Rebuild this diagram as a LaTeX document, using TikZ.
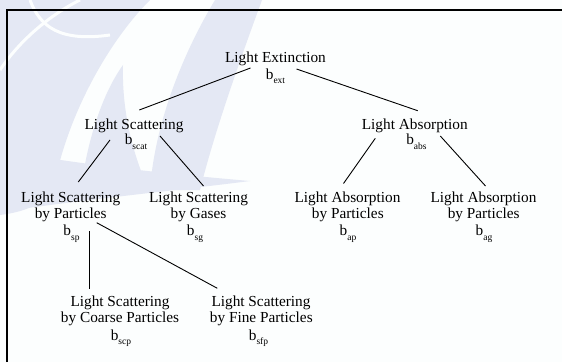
\documentclass[tikz,border=0pt]{standalone}
\usepackage{fontspec}
\setmainfont{Liberation Serif}
\definecolor{bgcol}{RGB}{252,254,254}
\definecolor{wmcol}{RGB}{228,232,244}
\newcommand{\bsubs}[1]{b\raisebox{-4.5pt}{\fontsize{9.5}{10}\selectfont #1}}
\begin{document}
\begin{tikzpicture}[x=1pt,y=1pt,
  lbl/.style={anchor=base, inner sep=0pt, font=\fontsize{15.3}{18}\selectfont},
  conn/.style={line width=0.9pt, black},
  wm/.style={fill=wmcol, draw=none},
  wmgap/.style={draw=bgcol, line width=3pt}]
\useasboundingbox (0,0) rectangle (562,362);
\fill[bgcol] (0,0) rectangle (562,362);
% watermark
\fill[wm] (0,362) -- (150,362) .. controls (110,322) and (70,252) .. (55,181)
  .. controls (50,167) and (40,152) .. (0,147) -- cycle;
\fill[wm] (82,181) .. controls (90,232) and (105,272) .. (123,297)
  .. controls (122,262) and (128,222) .. (145,181) -- cycle;
\fill[wm] (0,212) .. controls (80,197) and (180,187) .. (250,181)
  .. controls (180,172) and (80,162) .. (0,150) -- cycle;
\fill[wm] (150,172) .. controls (155,242) and (185,312) .. (215,362)
  -- (262,362) .. controls (240,302) and (215,232) .. (200,172) -- cycle;
\draw[wmgap] (0,292) .. controls (20,322) and (50,347) .. (80,362);
\draw[wmgap] (30,362) .. controls (40,335) and (60,320) .. (110,327);
% frame
\draw[line width=2.5pt] (7,0) -- (7,352) -- (562,352);
% nodes
\node[lbl] (ext)   at (275.5,299.3) {Light Extinction};
\node[lbl] (extb)  at (275.5,282.5) {\bsubs{ext}};
\node[lbl] (scat)  at (134,232.7) {Light Scattering};
\node[lbl] (scatb) at (136,217) {\bsubs{scat}};
\node[lbl] (abs)   at (414.8,232.7) {Light Absorption};
\node[lbl] (absb)  at (416.5,217) {\bsubs{abs}};
\node[lbl] (sp)    at (70.7,159.5) {Light Scattering};
\node[lbl] (sp2)   at (70.7,143.5) {by Particles};
\node[lbl] (spb)   at (71.5,126.5) {\bsubs{sp}};
\node[lbl] (sg)    at (198.5,159.5) {Light Scattering};
\node[lbl] (sg2)   at (198.5,143.5) {by Gases};
\node[lbl] (sgb)   at (195,126.5) {\bsubs{sg}};
\node[lbl] (ap)    at (347.5,159.5) {Light Absorption};
\node[lbl] (ap2)   at (347.8,143.5) {by Particles};
\node[lbl] (apb)   at (348,126.5) {\bsubs{ap}};
\node[lbl] (ag)    at (483.5,159.5) {Light Absorption};
\node[lbl] (ag2)   at (483.7,143.5) {by Particles};
\node[lbl] (agb)   at (484,126.5) {\bsubs{ag}};
\node[lbl] (scp)   at (120,55.5) {Light Scattering};
\node[lbl] (scp2)  at (120,39.5) {by Coarse Particles};
\node[lbl] (scpb)  at (121,22) {\bsubs{scp}};
\node[lbl] (sfp)   at (261,55.5) {Light Scattering};
\node[lbl] (sfp2)  at (261.3,39.5) {by Fine Particles};
\node[lbl] (sfpb)  at (258.5,22) {\bsubs{sfp}};
% connectors
\draw[conn] ([shift={(-25,-5.3)}]ext.base) -- ([shift={(5.3,19.3)}]scat.base);
\draw[conn] ([shift={(21,-6.3)}]ext.base) -- ([shift={(2.9,18.6)}]abs.base);
\draw[conn] ([shift={(-24,-10.7)}]scat.base) -- ([shift={(7.6,20.5)}]sp.base);
\draw[conn] ([shift={(26,-6.7)}]scat.base) -- ([shift={(5,16.5)}]sg.base);
\draw[conn] ([shift={(-39.5,-9)}]abs.base) -- ([shift={(-4,19)}]ap.base);
\draw[conn] ([shift={(25.5,-6.7)}]abs.base) -- ([shift={(2,16.5)}]ag.base);
\draw[conn] ([shift={(18.3,-28.5)}]sp.base) -- ([shift={(-31,17.2)}]scp.base);
\draw[conn] ([shift={(26,-20.2)}]sp.base) -- ([shift={(-43.7,18.2)}]sfp.base);
\end{tikzpicture}
\end{document}
